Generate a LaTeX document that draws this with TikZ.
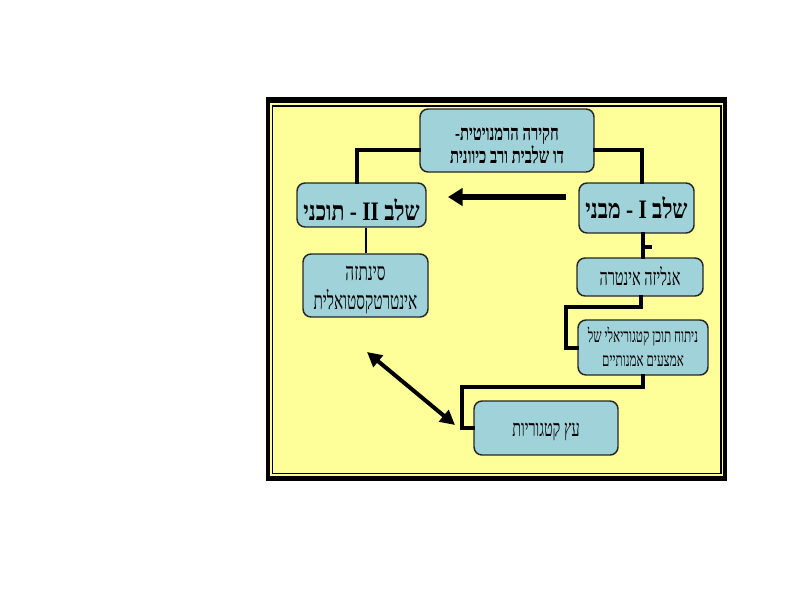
\documentclass[tikz,border=0pt]{standalone}
\usepackage{fontspec}
\usetikzlibrary{arrows.meta,calc}
\TeXXeTstate=1
\newfontfamily\heb[Script=Hebrew,FakeStretch=0.62]{Liberation Serif}
\newfontfamily\hebtop[Script=Hebrew,FakeStretch=0.68]{Liberation Serif}
\newfontfamily\hebst[Script=Hebrew,FakeStretch=0.8]{Liberation Serif}
\definecolor{frameyellow}{RGB}{255,255,153}
\definecolor{boxblue}{RGB}{160,210,218}
% a line of text, centred, its baseline #1 below the node centre
\newcommand\lineat[2]{\makebox[0pt]{\raisebox{-#1}[0pt][0pt]{#2}}}
\begin{document}
\begin{tikzpicture}[x=0.75pt,y=-0.75pt,
  box/.style={draw=black!85,line width=1.1pt,fill=boxblue,rounded corners=6pt,
    inner sep=0pt,font=\heb},
  conn/.style={line width=3pt,line cap=rect},
  thinconn/.style={line width=2.2pt},
  bigarrow/.style={line width=4.5pt,-{Triangle[length=11pt,width=13pt]}},
  dblarrow/.style={line width=3pt,{Triangle[length=11pt,width=11pt]}-{Triangle[length=11pt,width=11pt]}}]
\useasboundingbox (0,0) rectangle (800,600);
\fill[white] (0,0) rectangle (800,600);
% frame
\fill[black] (266,97) rectangle (727,481);
\fill[frameyellow] (270,103) rectangle (723,476);
\draw[black,line width=0.9pt] (272.5,106) rectangle (721,473.5);
% boxes
\node[box,minimum width=174*0.75pt,minimum height=63*0.75pt,font=\hebtop\bfseries\fontsize{16.3}{18}\selectfont]
  (top) at (507,140.5) {\lineat{0pt}{\beginR חקירה הרמנויטית-\endR}\lineat{17pt}{\beginR דו שלבית ורב כיוונית\endR}};
\node[box,minimum width=129*0.75pt,minimum height=44*0.75pt,font=\hebst\bfseries\fontsize{20}{24}\selectfont]
  (s2) at (361.5,205) {\lineat{11.5pt}{\beginR שלב II - תוכני\endR}};
\node[box,minimum width=125*0.75pt,minimum height=63*0.75pt,font=\heb\fontsize{18.5}{22}\selectfont]
  (syn) at (365.5,285.5) {\lineat{-3.6pt}{\beginR סינתזה\endR}\lineat{18.3pt}{\beginR אינטרטקסטואלית\endR}};
\node[box,minimum width=115*0.75pt,minimum height=50*0.75pt,font=\hebst\bfseries\fontsize{20}{24}\selectfont]
  (s1) at (636.5,208) {\lineat{8pt}{\beginR שלב I - מבני\endR}};
\node[box,minimum width=126*0.75pt,minimum height=38*0.75pt,font=\heb\fontsize{17.4}{20}\selectfont]
  (ana) at (640,277) {\lineat{6.3pt}{\beginR אנליזה אינטרה\endR}};
\node[box,minimum width=130*0.75pt,minimum height=55*0.75pt,font=\heb\fontsize{14.2}{18}\selectfont]
  (cat) at (643,347.5) {\lineat{-3.4pt}{\beginR ניתוח תוכן קטגוריאלי של\endR}\lineat{14.2pt}{\beginR אמצעים אמנותיים\endR}};
\node[box,minimum width=144*0.75pt,minimum height=54*0.75pt,font=\heb\fontsize{17.4}{20}\selectfont]
  (tree) at (546,428) {\lineat{6pt}{\beginR עץ קטגוריות\endR}};
% connector coordinates
\coordinate (c1) at (357,150);
\coordinate (c2) at (642,150);
\coordinate (c3) at (366,240);
\coordinate (c4) at (643,247);
\coordinate (c4b) at (652,247);
\coordinate (c5a) at (641,307);
\coordinate (c5b) at (566,348);
\coordinate (c6a) at (643,387);
\coordinate (c6b) at (462,428);
\coordinate (a1) at (566,197);
\coordinate (a2) at (448,197);
\coordinate (d1) at (367,352);
\coordinate (d2) at (455,425);
% connectors
\draw[conn] (top.west |- c1) -- (c1) -- (s2.north -| c1);
\draw[conn] (top.east |- c2) -- (c2) -- (s1.north -| c2);
\draw[thinconn] (s2.south -| c3) -- (syn.north -| c3);
\draw[conn] (s1.south -| c4) -- (ana.north -| c4);
\draw[line width=3.5pt] (c4) -- (c4b);
\draw[conn] (ana.south -| c5a) -- (c5a) -- (c5a -| c5b) -- (c5b) -- (cat.west |- c5b);
\draw[conn] (cat.south -| c6a) -- (c6a) -- (c6a -| c6b) -- (c6b) -- (tree.west |- c6b);
\draw[bigarrow] (a1) -- (a2);
\draw[dblarrow] (d1) -- (d2);
\end{tikzpicture}
\end{document}
